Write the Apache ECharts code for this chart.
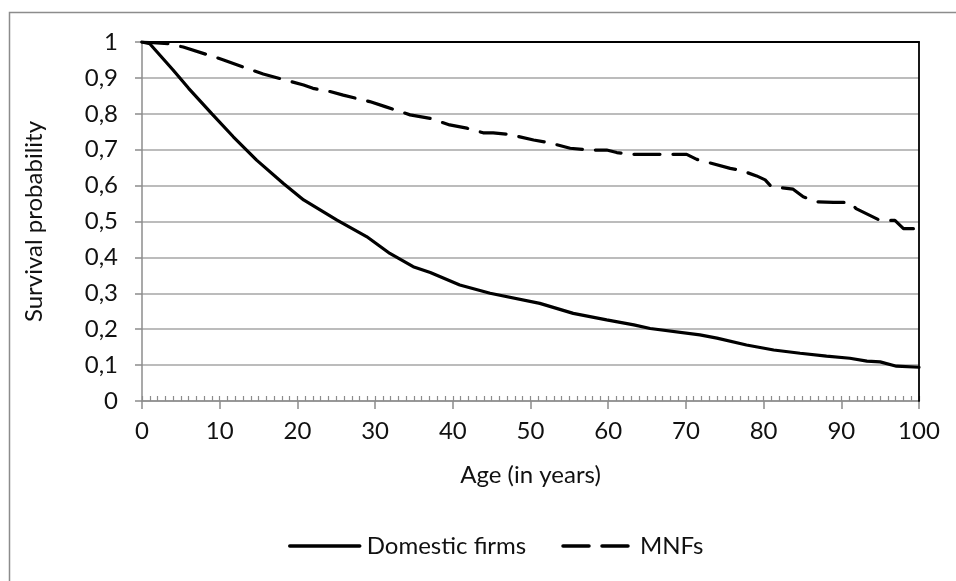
<!DOCTYPE html>
<html>
<head>
<meta charset="utf-8">
<script src="https://cdn.jsdelivr.net/npm/echarts@6/dist/echarts.min.js"></script>
<style>
html,body{margin:0;padding:0;background:#fff;}
#chart{width:956px;height:581px;}
</style>
</head>
<body>
<div id="chart"></div>
<script>
// Data
var domesticAges = [0, 1, 4, 6, 9, 11.75, 14.75, 18.2, 20.8, 25.1, 28.9, 31.9, 34.9, 37.1, 40.9, 44.8, 51.2, 55.5, 59.8, 63.3, 65.4, 71.8, 74, 77.8, 81.3, 84.7, 88.1, 91.1, 93.3, 95, 97.1, 100];
var domesticSurvival = [1, 0.995, 0.922, 0.871, 0.80, 0.736, 0.671, 0.606, 0.56, 0.504, 0.458, 0.411, 0.374, 0.358, 0.323, 0.30, 0.272, 0.244, 0.226, 0.212, 0.202, 0.184, 0.175, 0.156, 0.142, 0.133, 0.125, 0.119, 0.111, 0.109, 0.097, 0.094];
var mnfAges = [0, 3.4, 5.3, 8.5, 10.5, 13.7, 15.6, 18.8, 20.8, 22, 24.2, 25.9, 29.3, 31.3, 34.5, 37.1, 39.6, 41.8, 43.9, 45.2, 47.1, 50.4, 52.3, 55.1, 57.7, 59.8, 61.1, 63.2, 66.7, 70.1, 71.4, 75.7, 77, 79.1, 80.2, 81, 81.9, 83.8, 85.1, 86.8, 89, 91.1, 91.9, 95, 96.9, 98, 100];
var mnfSurvival = [1, 0.995, 0.986, 0.964, 0.95, 0.925, 0.911, 0.892, 0.880, 0.871, 0.862, 0.852, 0.834, 0.82, 0.797, 0.787, 0.769, 0.76, 0.747, 0.747, 0.743, 0.727, 0.72, 0.704, 0.699, 0.699, 0.692, 0.687, 0.687, 0.687, 0.673, 0.648, 0.643, 0.627, 0.616, 0.597, 0.595, 0.59, 0.569, 0.555, 0.553, 0.553, 0.536, 0.503, 0.503, 0.48, 0.48];
var seriesNames = ['Domestic firms', 'MNFs'];
var xTitle = 'Age (in years)';
var yTitle = 'Survival probability';

function pairs(xs, ys){ return xs.map(function(x,i){ return [x, ys[i]]; }); }

var FONT = 'Lato';
var chart = echarts.init(document.getElementById('chart'), null, {renderer:'canvas'});
chart.setOption({
  animation:false,
  backgroundColor:'#fff',
  textStyle:{fontFamily:FONT},
  graphic:[{
    type:'rect', silent:true, z:-10,
    shape:{x:9.5, y:12.5, width:1000, height:1000},
    style:{fill:null, stroke:'#8c8c8c', lineWidth:1.5}
  }],
  grid:{left:142, right:37, top:42, bottom:180, containLabel:false},
  legend:{
    bottom:18, left:283,
    itemWidth:70, itemHeight:14, itemGap:35,
    itemStyle:{color:'rgba(0,0,0,0)', borderWidth:0, opacity:0},
    lineStyle:{width:3.5, color:'#000'},
    textStyle:{fontFamily:FONT, fontSize:24, color:'#111', padding:[0,0,0,2]},
    data:seriesNames
  },
  xAxis:[{
    type:'value', min:0, max:100, interval:10,
    name:xTitle, nameLocation:'middle', nameGap:62,
    nameTextStyle:{fontFamily:FONT, fontSize:24, color:'#111'},
    axisLine:{show:true, onZero:false, lineStyle:{color:'#8c8c8c', width:1.5}},
    axisTick:{show:true, inside:false, length:8, lineStyle:{color:'#8c8c8c', width:1.5}},
    axisLabel:{fontFamily:FONT, fontSize:24, color:'#111', margin:18},
    splitLine:{show:false}
  },{
    type:'value', min:0, max:100, interval:1, position:'bottom', offset:0,
    axisLine:{show:false, onZero:false}, axisLabel:{show:false}, splitLine:{show:false},
    axisTick:{show:true, inside:true, length:5, lineStyle:{color:'#8c8c8c', width:1.2}}
  },{
    type:'value', min:0, max:100, position:'top', z:5,
    axisLine:{show:true, onZero:false, lineStyle:{color:'#000', width:1.8}},
    axisTick:{show:false}, axisLabel:{show:false}, splitLine:{show:false}
  }],
  yAxis:[{
    type:'value', min:0, max:1, interval:0.1,
    name:yTitle, nameLocation:'middle', nameGap:96, nameRotate:90,
    nameTextStyle:{fontFamily:FONT, fontSize:24, color:'#111'},
    axisLine:{show:true, onZero:false, lineStyle:{color:'#8c8c8c', width:1.5}},
    axisTick:{show:true, inside:false, length:7, lineStyle:{color:'#8c8c8c', width:1.5}},
    axisLabel:{fontFamily:FONT, fontSize:24, color:'#111', margin:24,
      formatter:function(v){ return String(Math.round(v*10)/10).replace('.', ','); }},
    splitLine:{show:true, lineStyle:{color:'#a6a6a6', width:1.5}}
  },{
    type:'value', min:0, max:1, position:'right', z:5,
    axisLine:{show:true, onZero:false, lineStyle:{color:'#000', width:1.8}},
    axisTick:{show:false}, axisLabel:{show:false}, splitLine:{show:false}
  }],
  series:[{
    name:seriesNames[0], type:'line', xAxisIndex:0, yAxisIndex:0,
    data:pairs(domesticAges, domesticSurvival),
    showSymbol:false, symbol:'none', smooth:false, z:10,
    lineStyle:{color:'#000', width:3.2, type:'solid', cap:'round'},
    itemStyle:{color:'#000'}
  },{
    name:seriesNames[1], type:'line', xAxisIndex:0, yAxisIndex:0,
    data:pairs(mnfAges, mnfSurvival),
    showSymbol:false, symbol:'none', smooth:false, z:10,
    lineStyle:{color:'#000', width:3.2, type:[26,13], cap:'round'},
    itemStyle:{color:'#000'}
  }]
});
</script>
</body>
</html>
